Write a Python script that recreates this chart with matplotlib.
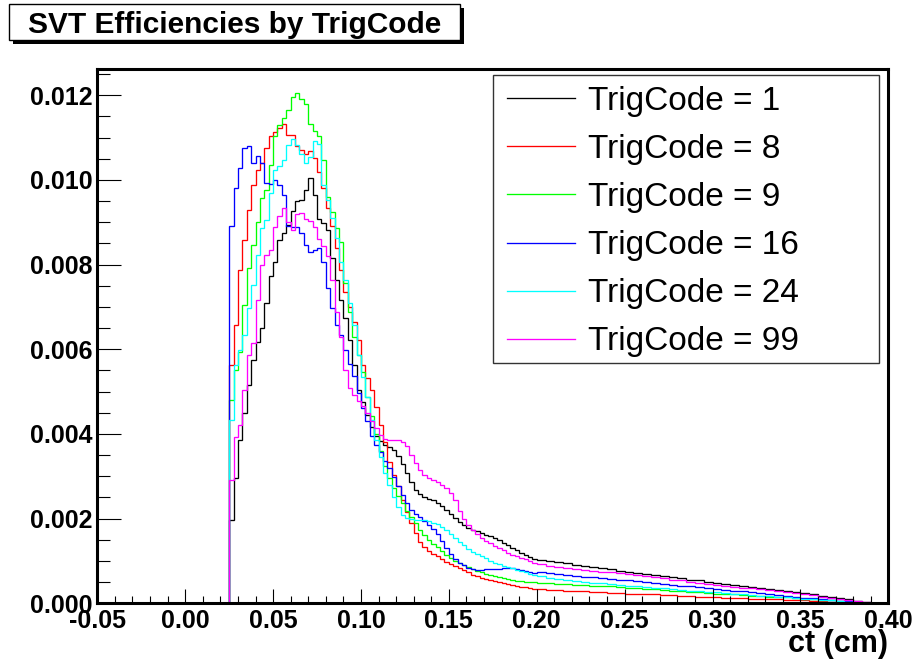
import numpy as np
import matplotlib
matplotlib.use("Agg")
import matplotlib.pyplot as plt
from matplotlib.ticker import MultipleLocator, FormatStrFormatter
from matplotlib.patches import Rectangle
from matplotlib.lines import Line2D

plt.rcParams['font.family'] = ['Liberation Sans', 'DejaVu Sans']
plt.rcParams['axes.unicode_minus'] = False

# ---------------- data ----------------
# bins: one empty bin (-0.05, 0.025), bins of 0.0025 up to 0.20, bins of 0.005 up to 0.40
fine_edges = np.round(np.arange(0.025, 0.2 + 1e-9, 0.0025), 5)
tail_edges = np.round(np.arange(0.205, 0.4 + 1e-9, 0.005), 5)
bin_edges = np.concatenate([[-0.05], fine_edges, tail_edges])

labels = ["TrigCode = 1", "TrigCode = 8", "TrigCode = 9",
          "TrigCode = 16", "TrigCode = 24", "TrigCode = 99"]
colors = ["#000000", "#ff0000", "#00ff00", "#0000ff", "#00ffff", "#ff00ff"]

tc1 = [0.00196, 0.00295, 0.00385, 0.00449, 0.00515, 0.00574, 0.00616, 0.0065, 0.00709, 0.00772,
       0.00805, 0.00857, 0.00874, 0.00893, 0.00926, 0.0095, 0.00952, 0.00976, 0.01004, 0.00964,
       0.00907, 0.00898, 0.00881, 0.00815, 0.00763, 0.00716, 0.00673, 0.00621, 0.00562, 0.00503,
       0.00475, 0.00444, 0.00416, 0.00394, 0.00383, 0.00373, 0.00368, 0.00361, 0.00347, 0.00328,
       0.00307, 0.00286, 0.00267, 0.00257, 0.0025, 0.00247, 0.00243, 0.00236, 0.00229, 0.0022,
       0.0021, 0.00201, 0.00191, 0.00184, 0.00178, 0.00174, 0.0017, 0.00165, 0.00162, 0.00158,
       0.00154, 0.00149, 0.00143, 0.00137, 0.00131, 0.00125, 0.00119, 0.00115, 0.0011, 0.00105,
       0.00103, 0.001, 0.00097, 0.00094, 0.00091, 0.00089, 0.00086, 0.00083, 0.0008, 0.00077,
       0.00074, 0.00072, 0.00069, 0.00067, 0.00064, 0.00061, 0.00059, 0.00056, 0.00054, 0.00051,
       0.00049, 0.00046, 0.00044, 0.00041, 0.00039, 0.00037, 0.00034, 0.00032, 0.0003, 0.00027,
       0.00024, 0.00021, 0.00018, 0.00015, 0.00012, 0.00009, 0.00005, 0.00002, 0.0, 0.0]

tc8 = [0.00562, 0.00657, 0.00787, 0.00857, 0.00928, 0.00987, 0.01023, 0.0104, 0.01075, 0.01103,
       0.01112, 0.01122, 0.01131, 0.01105, 0.01105, 0.01079, 0.0107, 0.01061, 0.01068, 0.01051,
       0.01018, 0.0098, 0.00933, 0.0089, 0.00838, 0.00787, 0.00735, 0.00699, 0.00664, 0.00621,
       0.00562, 0.00531, 0.00503, 0.00463, 0.0042, 0.0038, 0.00333, 0.00302, 0.00276, 0.00243,
       0.00215, 0.00189, 0.00165, 0.00144, 0.00132, 0.00123, 0.00116, 0.00111, 0.00104, 0.00097,
       0.00092, 0.00087, 0.00083, 0.00078, 0.00073, 0.00068, 0.00064, 0.0006, 0.00057, 0.00054,
       0.00052, 0.0005, 0.00047, 0.00045, 0.00043, 0.0004, 0.00039, 0.00038, 0.00035, 0.00034,
       0.00033, 0.00032, 0.00031, 0.0003, 0.00029, 0.00028, 0.00027, 0.00026, 0.00025, 0.00024,
       0.00023, 0.00022, 0.00021, 0.00021, 0.0002, 0.00019, 0.00018, 0.00017, 0.00016, 0.00015,
       0.00014, 0.00013, 0.00013, 0.00012, 0.00011, 0.0001, 0.0001, 0.00009, 0.00008, 0.00008,
       0.00007, 0.00006, 0.00005, 0.00004, 0.00003, 0.00003, 0.00002, 0.00001, 0.0, 0.0]

tc9 = [0.00479, 0.0055, 0.00593, 0.00704, 0.00791, 0.00846, 0.009, 0.00957, 0.00976, 0.01035,
       0.01103, 0.01129, 0.01146, 0.01164, 0.01195, 0.01205, 0.0119, 0.01179, 0.01131, 0.01115,
       0.01103, 0.01046, 0.00959, 0.00924, 0.00886, 0.00853, 0.00756, 0.00687, 0.00628, 0.00586,
       0.00546, 0.00487, 0.00442, 0.00399, 0.00359, 0.00324, 0.00295, 0.00272, 0.00253, 0.00236,
       0.00217, 0.00203, 0.00189, 0.00172, 0.00161, 0.00149, 0.00139, 0.00132, 0.00123, 0.00113,
       0.00106, 0.00099, 0.00094, 0.0009, 0.00085, 0.0008, 0.00077, 0.00073, 0.0007, 0.00066,
       0.00064, 0.00061, 0.00059, 0.00057, 0.00054, 0.00053, 0.00052, 0.00051, 0.0005, 0.0005,
       0.00049, 0.00047, 0.00046, 0.00045, 0.00044, 0.00043, 0.00042, 0.00041, 0.0004, 0.00039,
       0.00037, 0.00036, 0.00034, 0.00033, 0.00032, 0.0003, 0.00029, 0.00027, 0.00026, 0.00025,
       0.00023, 0.00022, 0.00021, 0.0002, 0.00018, 0.00017, 0.00016, 0.00015, 0.00014, 0.00012,
       0.00011, 0.0001, 0.00008, 0.00007, 0.00005, 0.00004, 0.00003, 0.00001, 0.0, 0.0]

tc16 = [0.0089, 0.0098, 0.01027, 0.01075, 0.0108, 0.01039, 0.01056, 0.0104, 0.00992, 0.0099,
        0.00999, 0.00987, 0.00964, 0.0089, 0.00888, 0.00888, 0.00874, 0.00846, 0.00829, 0.00834,
        0.00839, 0.00805, 0.00744, 0.00697, 0.00657, 0.00633, 0.00598, 0.00565, 0.00536, 0.00496,
        0.00461, 0.0043, 0.00394, 0.00373, 0.00357, 0.00335, 0.00319, 0.00298, 0.00276, 0.00255,
        0.00236, 0.0022, 0.0021, 0.00203, 0.00194, 0.00184, 0.00175, 0.00163, 0.00146, 0.0013,
        0.00116, 0.00104, 0.00094, 0.0009, 0.00083, 0.0008, 0.00078, 0.00078, 0.0008, 0.0008,
        0.00081, 0.00082, 0.00083, 0.00083, 0.00083, 0.00081, 0.00079, 0.00077, 0.00074, 0.00072,
        0.00073, 0.00071, 0.00069, 0.00067, 0.00065, 0.00063, 0.00061, 0.00059, 0.00057, 0.00056,
        0.00054, 0.00052, 0.0005, 0.00048, 0.00046, 0.00044, 0.00042, 0.0004, 0.00039, 0.00037,
        0.00034, 0.00032, 0.0003, 0.00028, 0.00026, 0.00024, 0.00022, 0.0002, 0.00017, 0.00015,
        0.00013, 0.00012, 0.0001, 0.00008, 0.00006, 0.00005, 0.00003, 0.00001, 0.0, 0.0]

tc24 = [0.00432, 0.00562, 0.00598, 0.00633, 0.00697, 0.00751, 0.00822, 0.00886, 0.00905, 0.00968,
        0.01023, 0.01032, 0.01046, 0.01082, 0.01096, 0.01082, 0.01061, 0.01039, 0.01053, 0.01091,
        0.01084, 0.00987, 0.00952, 0.00909, 0.00862, 0.00805, 0.00763, 0.00709, 0.00657, 0.00586,
        0.00534, 0.00487, 0.00432, 0.00385, 0.00345, 0.00307, 0.00279, 0.0025, 0.00227, 0.00208,
        0.00201, 0.00198, 0.00196, 0.00196, 0.00196, 0.00194, 0.00189, 0.00187, 0.0018, 0.00172,
        0.00163, 0.00154, 0.00144, 0.00137, 0.00128, 0.0012, 0.00116, 0.00111, 0.00106, 0.00099,
        0.00094, 0.00092, 0.00089, 0.00085, 0.00083, 0.00079, 0.00076, 0.00073, 0.0007, 0.00067,
        0.00064, 0.0006, 0.00057, 0.00054, 0.00052, 0.00051, 0.00049, 0.00047, 0.00045, 0.00043,
        0.00042, 0.0004, 0.00039, 0.00037, 0.00035, 0.00034, 0.00032, 0.0003, 0.00029, 0.00027,
        0.00026, 0.00024, 0.00022, 0.00021, 0.0002, 0.00018, 0.00017, 0.00015, 0.00014, 0.00013,
        0.00011, 0.0001, 0.00008, 0.00007, 0.00005, 0.00004, 0.00003, 0.00001, 0.0, 0.0]

tc99 = [0.00291, 0.00392, 0.0042, 0.00503, 0.00586, 0.00614, 0.00716, 0.00798, 0.00822, 0.00834,
        0.00888, 0.00914, 0.00933, 0.009, 0.00881, 0.00919, 0.00921, 0.00907, 0.00902, 0.00888,
        0.0086, 0.00843, 0.0082, 0.00763, 0.00687, 0.00628, 0.0055, 0.00508, 0.00491, 0.00477,
        0.00465, 0.00449, 0.0043, 0.00413, 0.00397, 0.00387, 0.00385, 0.00385, 0.00385, 0.0038,
        0.00371, 0.0035, 0.00331, 0.00314, 0.00302, 0.00295, 0.00291, 0.00286, 0.00279, 0.00272,
        0.0026, 0.00243, 0.00217, 0.00198, 0.00184, 0.00172, 0.00163, 0.00154, 0.00146, 0.00142,
        0.00135, 0.0013, 0.00125, 0.00119, 0.00115, 0.00111, 0.00107, 0.00104, 0.00099, 0.00096,
        0.00093, 0.00089, 0.00086, 0.00083, 0.00081, 0.00079, 0.00077, 0.00075, 0.00073, 0.00071,
        0.00069, 0.00067, 0.00064, 0.00062, 0.00059, 0.00056, 0.00054, 0.00051, 0.00049, 0.00046,
        0.00044, 0.00042, 0.00039, 0.00037, 0.00035, 0.00033, 0.00031, 0.00028, 0.00026, 0.00024,
        0.00021, 0.00019, 0.00016, 0.00013, 0.0001, 0.00008, 0.00005, 0.00002, 0.0, 0.0]

series = [tc1, tc8, tc9, tc16, tc24, tc99]

x_ticks_fmt = "%.2f"
y_ticks_fmt = "%.3f"
title = "SVT Efficiencies by TrigCode"
xlabel = "ct (cm)"

# ---------------- figure ----------------
W, H = 916, 660
fig = plt.figure(figsize=(W / 100, H / 100), dpi=100)
fig.patch.set_facecolor("white")

ax_l, ax_r, ax_t, ax_b = 97.3, 888.3, 68.5, 603.3
ax = fig.add_axes([ax_l / W, 1 - ax_b / H, (ax_r - ax_l) / W, (ax_b - ax_t) / H])

for vals, col in zip(series, colors):
    ax.stairs([0.0] + list(vals), bin_edges, color=col, linewidth=0.95, baseline=None)

ax.set_xlim(-0.05, 0.40)
ax.set_ylim(0, 0.01263)

ax.xaxis.set_major_locator(MultipleLocator(0.05))
ax.xaxis.set_minor_locator(MultipleLocator(0.01))
ax.yaxis.set_major_locator(MultipleLocator(0.002))
ax.yaxis.set_minor_locator(MultipleLocator(0.0005))
ax.xaxis.set_major_formatter(FormatStrFormatter(x_ticks_fmt))
ax.yaxis.set_major_formatter(FormatStrFormatter(y_ticks_fmt))

ax.tick_params(axis="x", which="major", direction="in", length=10, width=0.8,
               top=False, pad=4, labelsize=18, colors="black")
ax.tick_params(axis="x", which="minor", direction="in", length=5, width=0.8, top=False)
ax.tick_params(axis="y", which="major", direction="in", length=17, width=0.8,
               right=False, pad=3.5, labelsize=18, colors="black")
ax.tick_params(axis="y", which="minor", direction="in", length=9, width=0.8, right=False)
for lab in ax.get_xticklabels() + ax.get_yticklabels():
    lab.set_fontweight("bold")

for sp in ax.spines.values():
    sp.set_linewidth(2.2)
    sp.set_color("black")

ax.set_xlabel(xlabel, fontsize=22, fontweight="bold", loc="right")
ax.xaxis.label.set_va("baseline")
ax.xaxis.set_label_coords(1.0, -(652 - ax_b) / (ax_b - ax_t))

# legend
handles = [Line2D([], [], color=c, linewidth=0.95) for c in colors]
leg = ax.legend(handles, labels, loc="upper left",
                bbox_to_anchor=(507 / W, 1 - 86 / H), bbox_transform=fig.transFigure,
                frameon=False, fontsize=24, handlelength=2.04, handletextpad=0.39,
                labelspacing=0.512, borderpad=0, borderaxespad=0)
fig.add_artist(Rectangle((493 / W, 1 - 363 / H), (879 - 493) / W, (363 - 75) / H,
                         transform=fig.transFigure, fill=False, edgecolor="#333333",
                         linewidth=1.0))

# title box with shadow
fig.add_artist(Rectangle((13 / W, 1 - 44 / H), 451 / W, 36 / H, transform=fig.transFigure,
                         facecolor="black", edgecolor="black", linewidth=0))
fig.add_artist(Rectangle((9 / W, 1 - 40 / H), 451 / W, 36 / H, transform=fig.transFigure,
                         facecolor="white", edgecolor="black", linewidth=1.0))
fig.text(234.5 / W, 1 - 33 / H, title, ha="center", va="baseline",
         fontsize=21.5, fontweight="bold")

fig.savefig("out.png", dpi=100)
